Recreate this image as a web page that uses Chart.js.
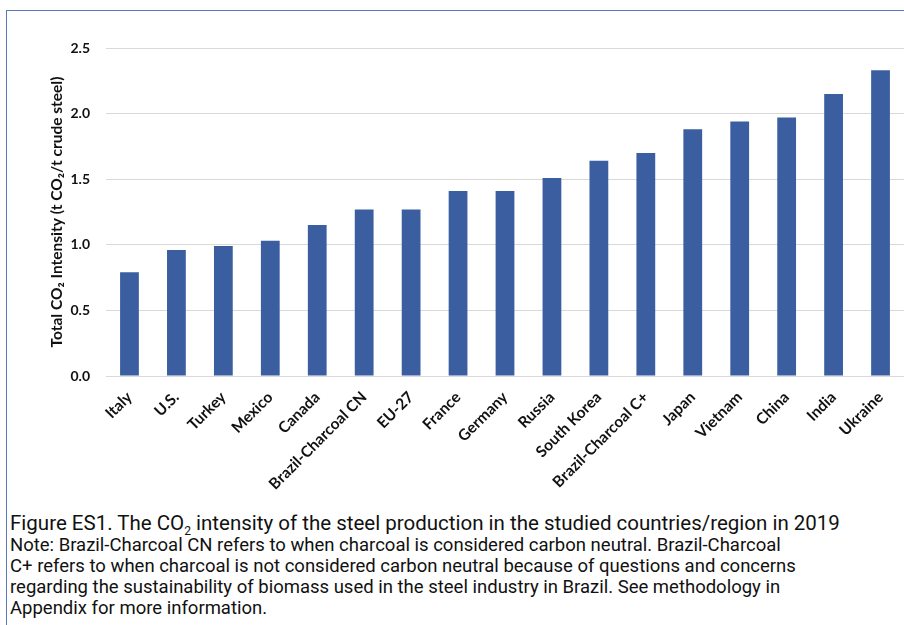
<!DOCTYPE html>
<html>
<head>
<meta charset="utf-8">
<script src="https://cdn.jsdelivr.net/npm/chart.js@4"></script>
<style>
  body { margin: 0; background: #fff; width: 904px; height: 625px; overflow: hidden; position: relative; }
  #frame { position: absolute; left: 6px; top: 10px; right: 0; bottom: 0; border-left: 1.5px solid #5a78bd; border-top: 1.5px solid #5a78bd; }
  #wrap { position: absolute; left: 7px; top: 11px; width: 897px; height: 498px; }
  #caption { position: absolute; left: 10px; top: 511px; font-family: Roboto, sans-serif; color: #111; white-space: nowrap; }
  #caption .fig { font-size: 20.5px; line-height: 24px; }
  #caption .note { font-size: 18.5px; line-height: 21px; }
  #caption sub { font-size: 12px; vertical-align: -5px; line-height: 0; }
</style>
</head>
<body>
<div id="frame"></div>
<div id="wrap"><canvas id="co2Chart"></canvas></div>
<div id="caption">
  <div class="fig">Figure ES1. The CO<sub>2</sub> intensity of the steel production in the studied countries/region in 2019</div>
  <div class="note">Note: Brazil-Charcoal CN refers to when charcoal is considered carbon neutral. Brazil-Charcoal<br>
  C+ refers to when charcoal is not considered carbon neutral because of questions and concerns<br>
  regarding the sustainability of biomass used in the steel industry in Brazil. See methodology in<br>
  Appendix for more information.</div>
</div>
<script>
// countries / regions on the x axis
const countries = ['Italy', 'U.S.', 'Turkey', 'Mexico', 'Canada', 'Brazil-Charcoal CN', 'EU-27', 'France',
  'Germany', 'Russia', 'South Korea', 'Brazil-Charcoal C+', 'Japan', 'Vietnam', 'China', 'India', 'Ukraine'];
// t CO2 per t crude steel
const intensity = [0.79, 0.96, 0.99, 1.03, 1.15, 1.27, 1.27, 1.41, 1.41, 1.51, 1.64, 1.70, 1.88, 1.94, 1.97, 2.15, 2.33];
const yTicks = [0, 0.5, 1.0, 1.5, 2.0, 2.5];

const ctx = document.getElementById('co2Chart').getContext('2d');
const co2Chart = new Chart(ctx, {
  type: 'bar',
  data: {
    labels: countries,
    datasets: [{
      label: 'Total CO2 Intensity',
      data: intensity,
      backgroundColor: '#3a5e9f',
      barPercentage: 0.4,
      categoryPercentage: 1.0
    }]
  },
  options: {
    responsive: true,
    maintainAspectRatio: false,
    animation: false,
    layout: { padding: { top: 37, right: 0, bottom: 0, left: 0 } },
    plugins: { legend: { display: false }, tooltip: { enabled: false } },
    scales: {
      x: {
        grid: { display: false },
        border: { color: '#d9d9d9', width: 1 },
        ticks: {
          color: '#111',
          font: { family: 'Lato', weight: 'bold', size: 15.5 },
          minRotation: 45, maxRotation: 45,
          autoSkip: false,
          padding: 4
        },
        afterFit: (scale) => { scale.height = 133; }
      },
      y: {
        min: 0, max: 2.5,
        afterBuildTicks: (scale) => { scale.ticks = yTicks.map(v => ({ value: v })); },
        grid: { color: '#d9d9d9', drawTicks: false },
        border: { display: false },
        ticks: {
          color: '#111',
          font: { family: 'Lato', weight: 'bold', size: 14 },
          padding: 16,
          callback: (v) => Number(v).toFixed(1)
        },
        title: {
          display: true,
          text: 'Total CO\u2082 Intensity (t CO\u2082/t crude steel)',
          color: '#111',
          font: { family: 'Lato', weight: 'bold', size: 15.5 },
          padding: { top: 41, bottom: 0 }
        },
        afterFit: (scale) => { scale.width = 99; }
      }
    }
  }
});
</script>
</body>
</html>
